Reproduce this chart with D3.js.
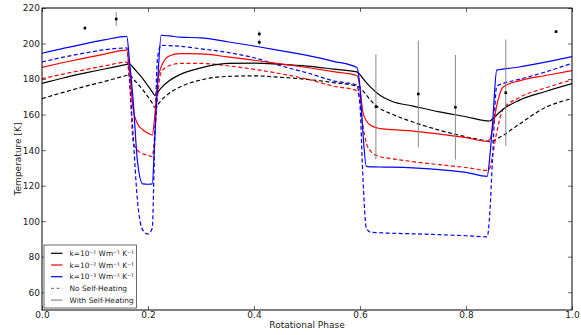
<!DOCTYPE html>
<html>
<head>
<meta charset="utf-8">
<script src="https://cdn.jsdelivr.net/npm/d3@7"></script>
<style>
  body { margin: 0; background: #fff; }
  svg { font-family: "DejaVu Sans", sans-serif; }
</style>
</head>
<body>
<div id="chart-area"></div>
<script>
// rotational phase grid shared by all model curves
var phase = [0, 0.04, 0.08, 0.12, 0.16, 0.165, 0.172, 0.18, 0.19, 0.2, 0.208, 0.213, 0.218, 0.225, 0.24, 0.26,
	0.3, 0.35, 0.4, 0.45, 0.5, 0.55, 0.594, 0.6, 0.605, 0.612, 0.62, 0.635, 0.66, 0.7, 0.75, 0.8, 0.84,
	0.845, 0.85, 0.858, 0.87, 0.9, 0.95, 1.0];

// k = 1e-1
var k1Heat = [177.6, 180.6, 183.3, 185.8, 188.3, 188.6, 186.5, 183.8, 180.3, 176.2, 172.8, 170.8, 172.5, 175, 179, 182.5,
	186.3, 188.8, 189, 188.3, 187.3, 185.6, 184, 182.5, 180.5, 178, 175.5, 171.5, 167.5, 164.8, 161.5, 158.8, 156.5,
	156.4, 157.5, 159.8, 163, 168, 173, 177.4];
var k1NoHeat = [169, 172.5, 175.8, 178.8, 182, 182.3, 180, 177.5, 174, 170, 166.5, 164, 165.5, 168, 172, 175.5,
	179.5, 181.5, 181.8, 181, 179.8, 178, 176, 175.2, 173.5, 171, 168, 164, 160.3, 155.8, 151.2, 147.5, 145,
	144.6, 145, 146.3, 148.3, 154.5, 164, 169];

// k = 1e-2
var k2Heat = [186.6, 189.3, 191.8, 194.2, 196.3, 185, 163, 155, 151.5, 149.5, 148.5, 160, 178, 187, 193, 194.3,
	194.2, 192.5, 190.6, 188.6, 186.5, 184.2, 182, 175, 162, 156.5, 154, 152.3, 151.5, 150.7, 149, 147, 145,
	146, 152, 165, 175.5, 179, 182, 184.8];
var k2NoHeat = [180.2, 182.8, 185.2, 187.5, 189.5, 180, 145, 140, 138, 137, 136.3, 150, 170, 184, 187.5, 188.8,
	188.8, 187.5, 185.5, 183, 180, 176, 173.5, 168, 155, 144, 139.5, 136.5, 135.2, 133.5, 131.8, 130.2, 128.6,
	130, 137, 150, 163, 169.5, 175, 179.5];

// k = 1e-3
var k3Heat = [194.5, 197.3, 199.8, 202.2, 204, 190.5, 168, 134, 121, 120.8, 121, 148, 177, 204.6, 204.3, 203.6,
	203.2, 201, 198.6, 196, 193.3, 190, 186.5, 175, 152, 130.8, 130.6, 130.5, 130.4, 130, 129, 127.5, 125.2,
	136.5, 154.5, 185, 185.6, 186.8, 189.5, 192.6];
var k3NoHeat = [189.6, 192.3, 194.6, 196.6, 197.5, 180, 148, 112, 95, 92.8, 96, 150, 192, 199, 198.8, 198.5,
	197, 195, 192, 187.5, 183.5, 179, 176.5, 165, 128, 96, 93.8, 93.5, 93.2, 92.9, 92.4, 91.8, 91.2,
	105, 135, 176, 177.5, 179.8, 184, 188.9];

// observed points
var obsPhase = [0.081, 0.14, 0.41, 0.41, 0.63, 0.71, 0.78, 0.875, 0.97];
var obsTemp = [208.7, 213.8, 205.4, 200.7, 164.4, 171.6, 164.1, 172.3, 206.7];
var obsErr = [0.8, 3.9, 1.5, 1.5, 29.5, 30, 29.5, 30, 0.8];

var xTicks = [0, 0.2, 0.4, 0.6, 0.8, 1.0];
var yTicks = [60, 80, 100, 120, 140, 160, 180, 200, 220];

var margin = { left: 42, right: 9, top: 8, bottom: 25 };
var width = 581 - margin.left - margin.right;
var height = 335 - margin.top - margin.bottom;

var svg = d3.select("#chart-area")
	.append("svg")
	.attr("width", 581)
	.attr("height", 335);

var g = svg.append("g")
	.attr("transform", "translate(" + margin.left + "," + margin.top + ")");

var x = d3.scaleLinear().domain([0, 1]).range([0, width]);
var y = d3.scaleLinear().domain([50, 220]).range([height, 0]);

svg.append("defs").append("clipPath").attr("id", "clip")
	.append("rect").attr("width", width).attr("height", height);

// axes, ticks pointing inwards on all four sides
var xAxis = g.append("g")
	.attr("transform", "translate(0," + height + ")")
	.call(d3.axisBottom(x).tickValues(xTicks).tickSizeInner(-4).tickSizeOuter(0).tickPadding(2)
		.tickFormat(d3.format(".1f")));
var yAxis = g.append("g")
	.call(d3.axisLeft(y).tickValues(yTicks).tickSizeInner(-4).tickSizeOuter(0).tickPadding(2));
g.append("g")
	.call(d3.axisTop(x).tickValues(xTicks).tickSizeInner(-4).tickSizeOuter(0).tickFormat(""));
g.append("g")
	.attr("transform", "translate(" + width + ",0)")
	.call(d3.axisRight(y).tickValues(yTicks).tickSizeInner(-4).tickSizeOuter(0).tickFormat(""));

g.selectAll(".domain").remove();
g.selectAll(".tick line").attr("stroke", "#000").attr("stroke-width", 0.6);
g.selectAll(".tick text").attr("font-size", "9px").attr("fill", "#222")
	.attr("font-family", "DejaVu Sans, sans-serif");

var curves = [
	{ vals: k1NoHeat, color: "#000", dash: "4,2.5" },
	{ vals: k2NoHeat, color: "#ff0000", dash: "4,2.5" },
	{ vals: k3NoHeat, color: "#0000ff", dash: "4,2.5" },
	{ vals: k1Heat, color: "#000", dash: null },
	{ vals: k2Heat, color: "#ff0000", dash: null },
	{ vals: k3Heat, color: "#0000ff", dash: null }
];

var line = d3.line()
	.x((d, i) => x(phase[i]))
	.y(d => y(d))
	.curve(d3.curveMonotoneX);

var plot = g.append("g").attr("clip-path", "url(#clip)");

curves.forEach(c => {
	plot.append("path")
		.attr("d", line(c.vals))
		.attr("fill", "none")
		.attr("stroke", c.color)
		.attr("stroke-width", 1.2)
		.attr("stroke-dasharray", c.dash);
});

// observations with error bars
obsPhase.forEach((p, i) => {
	plot.append("line")
		.attr("x1", x(p)).attr("x2", x(p))
		.attr("y1", y(obsTemp[i] - obsErr[i]))
		.attr("y2", y(obsTemp[i] + obsErr[i]))
		.attr("stroke", "#888")
		.attr("stroke-width", 1);
	plot.append("rect")
		.attr("x", x(p) - 1.3).attr("y", y(obsTemp[i]) - 1.3)
		.attr("width", 2.6).attr("height", 2.6)
		.attr("fill", "#000");
});

// frame
g.append("rect")
	.attr("width", width).attr("height", height)
	.attr("fill", "none").attr("stroke", "#000").attr("stroke-width", 1);

g.append("text")
	.attr("x", width / 2)
	.attr("y", height + 18)
	.attr("font-size", "9px")
	.attr("text-anchor", "middle")
	.attr("fill", "#222")
	.text("Rotational Phase");

g.append("text")
	.attr("x", -(height / 2))
	.attr("y", -21)
	.attr("font-size", "9px")
	.attr("text-anchor", "middle")
	.attr("transform", "rotate(-90)")
	.attr("fill", "#222")
	.text("Temperature [K]");

// legend
var legendItems = [
	{ label: "k=10\u207B\u00B9 Wm\u207B\u00B9 K\u207B\u00B9", color: "#000", dash: null },
	{ label: "k=10\u207B\u00B2 Wm\u207B\u00B9 K\u207B\u00B9", color: "#ff0000", dash: null },
	{ label: "k=10\u207B\u00B3 Wm\u207B\u00B9 K\u207B\u00B9", color: "#0000ff", dash: null },
	{ label: "No Self-Heating", color: "#888", dash: "3,2.5" },
	{ label: "With Self-Heating", color: "#888", dash: null }
];

var legend = svg.append("g").attr("transform", "translate(44,245)");
legend.append("rect")
	.attr("width", 92.5).attr("height", 63)
	.attr("fill", "#fff").attr("stroke", "#444").attr("stroke-width", 0.8);

legendItems.forEach((d, i) => {
	var yy = 8.3 + i * 11.7;
	legend.append("line")
		.attr("x1", 7).attr("x2", 18.5)
		.attr("y1", yy).attr("y2", yy)
		.attr("stroke", d.color).attr("stroke-width", 1.2)
		.attr("stroke-dasharray", d.dash);
	legend.append("text")
		.attr("x", 25.5).attr("y", yy + 2.7)
		.attr("font-size", "7.4px")
		.attr("fill", "#222")
		.text(d.label);
});
</script>
</body>
</html>
